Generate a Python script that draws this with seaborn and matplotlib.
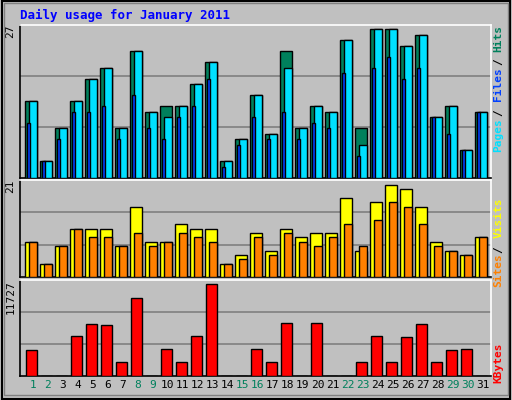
import numpy as np
import pandas as pd
import matplotlib
matplotlib.use("Agg")
import matplotlib.pyplot as plt
import seaborn as sns

days = np.arange(1, 32)
hits = [14, 3, 9, 14, 18, 20, 9, 23, 12, 13, 13, 17, 21, 3, 7, 15, 8, 23, 9, 13, 12, 25, 9, 27, 27, 24, 26, 11, 13, 5, 12]
files = [14, 3, 9, 14, 18, 20, 9, 23, 12, 11, 13, 17, 21, 3, 7, 15, 8, 20, 9, 13, 12, 25, 6, 27, 27, 24, 26, 11, 13, 5, 12]
pages = [10, 3, 7, 12, 12, 13, 7, 15, 9, 7, 11, 13, 18, 2, 6, 11, 7, 12, 7, 10, 9, 19, 4, 20, 22, 18, 20, 11, 8, 5, 12]
visits = [8, 3, 7, 11, 11, 11, 7, 16, 8, 8, 12, 11, 11, 3, 5, 10, 6, 11, 9, 10, 10, 18, 6, 17, 21, 20, 16, 8, 6, 5, 9]
sites = [8, 3, 7, 11, 9, 9, 7, 10, 7, 8, 10, 9, 8, 3, 4, 9, 5, 10, 8, 7, 9, 12, 7, 13, 17, 16, 12, 7, 6, 5, 9]
kbytes = [3351, 0, 0, 5155, 6701, 6572, 1804, 9923, 0, 3479, 1804, 5155, 11727, 0, 0, 3479, 1804, 6830, 0, 6830,
          0, 0, 1804, 5155, 1804, 5026, 6701, 1804, 3351, 3479, 0]
weekend = [1, 2, 8, 9, 15, 16, 22, 23, 29, 30]

BG = "#C0C0C0"
MONO = "DejaVu Sans Mono"

fig = plt.figure(figsize=(5.12, 4.0), dpi=100, facecolor=BG)
ax1 = fig.add_axes([20/512, 0.555, 471/512, 0.383])
ax2 = fig.add_axes([20/512, 0.3075, 471/512, 0.2425])
ax3 = fig.add_axes([20/512, 0.06, 471/512, 0.24])


def draw(ax, vals, offset, width, color):
    df = pd.DataFrame({"x": days + offset, "y": vals})
    sns.barplot(data=df, x="x", y="y", native_scale=True, width=width, color=color,
                saturation=1, edgecolor="black", linewidth=1, ax=ax, zorder=3, errorbar=None)


draw(ax1, hits, -0.12, 0.78, "#00805C")
draw(ax1, files, 0.02, 0.49, "#00E0FF")
draw(ax1, pages, -0.29, 0.22, "#0040FF")
draw(ax2, visits, -0.12, 0.78, "#FFFF00")
draw(ax2, sites, 0.02, 0.49, "#FF8000")
draw(ax3, kbytes, -0.08, 0.71, "#FF0000")

tops = [(ax1, 27.84, "27"), (ax2, 22.1, "21"), (ax3, 12277, "11727")]
for ax, top, lab in tops:
    ax.set_facecolor(BG)
    ax.set_xlim(0.153, 31.55)
    ax.set_ylim(0, top)
    for frac in (1/3, 2/3):
        ax.axhline(top * frac, color="#808080", lw=1.2, zorder=1)
    ax.set_xticks([])
    ax.set_yticks([])
    ax.set_xlabel("")
    ax.set_ylabel("")
    for s in ("left", "bottom"):
        ax.spines[s].set_color("black")
    for s in ("top", "right"):
        ax.spines[s].set_color("white")
    for s in ax.spines.values():
        s.set_linewidth(1.2)
    ax.text(-0.01, 1.0, lab, transform=ax.transAxes, rotation=90, ha="right", va="top",
            fontsize=8, family=MONO, color="black")

ax1.text(1.005, 1.0, "Hits", transform=ax1.transAxes, rotation=90, ha="left", va="top",
         fontsize=8, family=MONO, weight="bold", color="#00805C")
ax1.text(1.005, 0.78, "/", transform=ax1.transAxes, rotation=90, ha="left", va="top",
         fontsize=8, family=MONO, weight="bold", color="black")
ax1.text(1.005, 0.72, "Files", transform=ax1.transAxes, rotation=90, ha="left", va="top",
         fontsize=8, family=MONO, weight="bold", color="#0040FF")
ax1.text(1.005, 0.45, "/", transform=ax1.transAxes, rotation=90, ha="left", va="top",
         fontsize=8, family=MONO, weight="bold", color="black")
ax1.text(1.005, 0.39, "Pages", transform=ax1.transAxes, rotation=90, ha="left", va="top",
         fontsize=8, family=MONO, weight="bold", color="#00E0FF")
ax2.text(1.005, 0.82, "Visits", transform=ax2.transAxes, rotation=90, ha="left", va="top",
         fontsize=8, family=MONO, weight="bold", color="#FFFF00")
ax2.text(1.005, 0.32, "/", transform=ax2.transAxes, rotation=90, ha="left", va="top",
         fontsize=8, family=MONO, weight="bold", color="black")
ax2.text(1.005, 0.24, "Sites", transform=ax2.transAxes, rotation=90, ha="left", va="top",
         fontsize=8, family=MONO, weight="bold", color="#FF8000")
ax3.text(1.005, 0.35, "KBytes", transform=ax3.transAxes, rotation=90, ha="left", va="top",
         fontsize=8, family=MONO, weight="bold", color="#FF0000")

for d in days:
    ax3.text(d, -0.045, str(d), transform=ax3.get_xaxis_transform(), ha="center", va="top",
             fontsize=8, family=MONO, color="#00805C" if d in weekend else "black")

fig.text(20/512, 1 - 15/400, "Daily usage for January 2011", ha="left", va="center",
         fontsize=9, family=MONO, weight="bold", color="#0000FF")

# outer 3D-ish frame
fig.patches.append(plt.Rectangle((0.003, 0.003), 0.994, 0.994, transform=fig.transFigure,
                                 fill=False, edgecolor="black", lw=1.5))
fig.patches.append(plt.Rectangle((0.008, 0.012), 0.984, 0.98, transform=fig.transFigure,
                                 fill=False, edgecolor="#808080", lw=1.0))

fig.savefig("out.png", dpi=100, facecolor=BG)
